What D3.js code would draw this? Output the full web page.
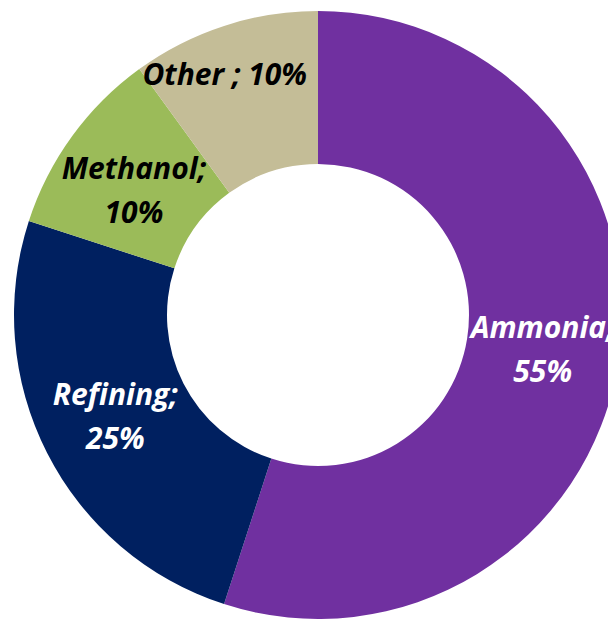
<!DOCTYPE html>
<html>
<head>
<meta charset="utf-8">
<script src="https://cdn.jsdelivr.net/npm/d3@7"></script>
<style>
  html, body { margin: 0; padding: 0; background: #ffffff; overflow: hidden; }
  svg { display: block; }
</style>
</head>
<body>
<svg id="chart" width="608" height="621"></svg>
<script>
// ---- data ----
const categories = ["Ammonia", "Refining", "Methanol", "Other"];
const values = [55, 25, 10, 10];
const labelLines = [["Ammonia;", "55%"], ["Refining;", "25%"], ["Methanol;", "10%"], ["Other ; 10%"]];
const colors = ["#7030A0", "#002060", "#9BBB59", "#C4BD97"];
const textColors = ["#ffffff", "#ffffff", "#000000", "#000000"];

// ---- layout ----
const W = 608, H = 621;
const cx = 318, cy = 315;
const outerR = 304, innerR = 151;
const fontSize = 30, lineGap = 44, capH = 18;
const nudges = [[0, 0], [0, 0], [0, 11], [-23, -23]];

const svg = d3.select("#chart");
const g = svg.append("g").attr("transform", `translate(${cx},${cy})`);

const data = categories.map((c, i) => ({ name: c, value: values[i], i }));
const pie = d3.pie().value(d => d.value).sort(null);
const arcs = pie(data);
const arc = d3.arc().innerRadius(innerR).outerRadius(outerR);
const labelArc = d3.arc().innerRadius(innerR).outerRadius(outerR);

g.selectAll("path.slice")
  .data(arcs)
  .join("path")
  .attr("class", "slice")
  .attr("d", arc)
  .attr("fill", d => colors[d.data.i]);

g.selectAll("text.lbl")
  .data(arcs)
  .join("text")
  .attr("class", "lbl")
  .attr("text-anchor", "middle")
  .attr("font-family", "'Open Sans', Lato, sans-serif")
  .attr("font-weight", "bold")
  .attr("font-style", "italic")
  .attr("font-size", fontSize)
  .attr("fill", d => textColors[d.data.i])
  .each(function(d) {
    const [x, y] = labelArc.centroid(d);
    const [nx, ny] = nudges[d.data.i];
    const lines = labelLines[d.data.i];
    const n = lines.length;
    const t = d3.select(this);
    lines.forEach((ln, k) => {
      t.append("tspan")
        .attr("x", x + nx)
        .attr("y", y + ny + (k - (n - 1) / 2) * lineGap + capH / 2)
        .text(ln);
    });
  });
</script>
</body>
</html>
